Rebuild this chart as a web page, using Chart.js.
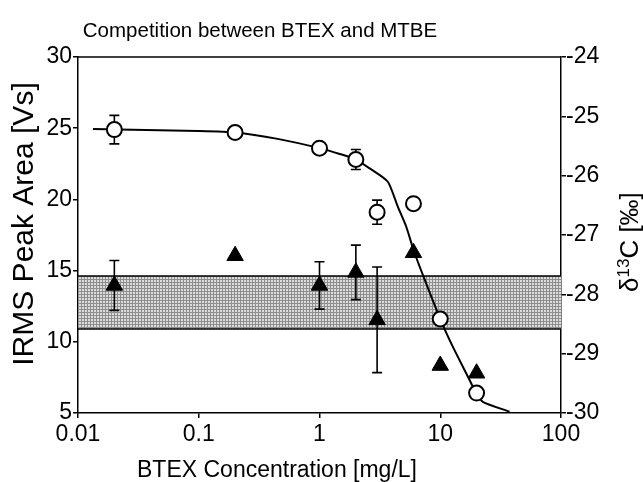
<!DOCTYPE html>
<html>
<head>
<meta charset="utf-8">
<title>Competition between BTEX and MTBE</title>
<script src="https://cdn.jsdelivr.net/npm/chart.js@4.4.1/dist/chart.umd.min.js"></script>
<style>
  html, body { margin: 0; padding: 0; background: #fff; }
  #wrap { width: 643px; height: 482px; }
</style>
</head>
<body>
<div id="wrap"><canvas id="chart" width="643" height="482"></canvas></div>
<script>
// BTEX concentrations [mg/L] for both measured series
var conc = [0.02, 0.2, 1, 2, 3, 6, 10, 20];

// IRMS peak area [Vs] (left axis) with +/- errors
var peakArea = [24.9, 24.7, 23.6, 22.8, 19.1, 19.7, 11.6, 6.4];
var peakAreaErr = [1.0, 0, 0, 0.7, 0.85, 0, 0, 0];

// delta 13C [permil] (right axis) with +/- errors
var delta13C = [-27.85, -27.35, -27.85, -27.63, -28.43, -27.3, -29.2, -29.33];
var delta13CErr = [0.42, 0, 0.4, 0.46, 0.89, 0, 0, 0];

// fitted curve through the peak areas
var fitConc = [0.0133, 0.1, 0.2, 0.45, 1, 1.47, 2, 2.6, 3.68, 4.45, 5.23, 6.01, 7.27, 10, 12.7, 16.4, 19.9, 22.5, 37.5];
var fitArea = [24.95, 24.8, 24.7, 24.25, 23.6, 23.19, 22.8, 22.18, 21.24, 19.49, 18.08, 16.45, 14.57, 11.6, 9.66, 7.79, 6.38, 5.79, 5.09];

// shaded reference band (peak area scale)
var bandConc = [0.01, 100];
var bandLow = [10.9, 10.9];
var bandHigh = [14.62, 14.62];

// axis ticks
var xTicks = [0.01, 0.1, 1, 10, 100];
var xTickLabels = ['0.01', '0.1', '1', '10', '100'];

var FONT = "'Liberation Sans', Arial, Helvetica, sans-serif";
Chart.defaults.font.family = FONT;
Chart.defaults.color = '#000';

function pts(xs, ys) {
    return xs.map(function(x, i) { return { x: x, y: ys[i] }; });
}

// fine gray grid used to fill the band
function bandPattern() {
    var c = document.createElement('canvas');
    c.width = 3; c.height = 3;
    var g = c.getContext('2d');
    g.fillStyle = '#dcdcdc';
    g.fillRect(0, 0, 3, 3);
    g.fillStyle = '#8e8e8e';
    g.fillRect(0, 0, 3, 1);
    g.fillRect(0, 0, 1, 3);
    return g.createPattern(c, 'repeat');
}

// vertical error bars with caps, drawn just under their markers
var errorBars = {
    id: 'errorBars',
    beforeDatasetDraw: function(chart, args) {
        var ds = chart.data.datasets[args.index];
        if (!ds.errors) return;
        var ctx = chart.ctx;
        var xs = chart.scales.x;
        var ys = chart.scales[ds.yAxisID];
        ctx.save();
        ctx.strokeStyle = '#000';
        ctx.lineWidth = 1.6;
        ds.data.forEach(function(p, i) {
            var e = ds.errors[i];
            if (!e) return;
            var x = xs.getPixelForValue(p.x);
            var y1 = ys.getPixelForValue(p.y + e);
            var y2 = ys.getPixelForValue(p.y - e);
            ctx.beginPath();
            ctx.moveTo(x, y1); ctx.lineTo(x, y2);
            ctx.moveTo(x - 5, y1); ctx.lineTo(x + 5, y1);
            ctx.moveTo(x - 5, y2); ctx.lineTo(x + 5, y2);
            ctx.stroke();
        });
        ctx.restore();
    }
};

// top frame line, chart title and axis titles
var frameAndTitles = {
    id: 'frameAndTitles',
    afterDraw: function(chart) {
        var ctx = chart.ctx;
        var a = chart.chartArea;
        ctx.save();
        ctx.strokeStyle = '#000';
        ctx.lineWidth = 1.5;
        ctx.beginPath();
        ctx.moveTo(a.left, a.top);
        ctx.lineTo(a.right, a.top);
        ctx.stroke();

        ctx.fillStyle = '#000';
        ctx.textBaseline = 'alphabetic';
        ctx.textAlign = 'center';
        ctx.font = '20.5px ' + FONT;
        ctx.fillText('Competition between BTEX and MTBE', 260, 37);

        ctx.font = '23px ' + FONT;
        ctx.fillText('BTEX Concentration [mg/L]', 277, 477);

        // left axis title
        ctx.save();
        ctx.translate(33, 224);
        ctx.rotate(-Math.PI / 2);
        ctx.font = '30px ' + FONT;
        ctx.fillText('IRMS Peak Area [Vs]', 0, 0);
        ctx.restore();

        // right axis title with superscript mass number
        ctx.save();
        ctx.translate(638, 292);
        ctx.rotate(-Math.PI / 2);
        ctx.textAlign = 'left';
        var x = 0;
        ctx.font = '26px ' + FONT;
        ctx.fillText('\u03b4', x, 0);
        x += ctx.measureText('\u03b4').width;
        ctx.font = '17px ' + FONT;
        ctx.fillText('13', x, -9);
        x += ctx.measureText('13').width;
        ctx.font = '26px ' + FONT;
        ctx.fillText('C [\u2030]', x, 0);
        ctx.restore();

        ctx.restore();
    }
};

var axisLine = { color: '#000', width: 1.5 };
var tickGrid = { drawOnChartArea: false, color: '#000', lineWidth: 1.5, tickLength: 5 };

var ctx = document.getElementById('chart').getContext('2d');
var chart = new Chart(ctx, {
    type: 'line',
    data: {
        datasets: [
            {
                label: 'band low',
                data: pts(bandConc, bandLow),
                yAxisID: 'yL',
                borderColor: '#000',
                borderWidth: 1.5,
                pointRadius: 0,
                fill: false,
                order: 10
            },
            {
                label: 'band high',
                data: pts(bandConc, bandHigh),
                yAxisID: 'yL',
                borderColor: '#000',
                borderWidth: 1.5,
                backgroundColor: bandPattern(),
                pointRadius: 0,
                fill: '-1',
                order: 10
            },
            {
                label: 'fit',
                data: pts(fitConc, fitArea),
                yAxisID: 'yL',
                borderColor: '#000',
                borderWidth: 2,
                pointRadius: 0,
                tension: 0.2,
                fill: false,
                order: 3
            },
            {
                label: 'delta 13C',
                data: pts(conc, delta13C),
                errors: delta13CErr,
                yAxisID: 'yR',
                showLine: false,
                pointStyle: 'triangle',
                pointRadius: 9.5,
                pointBackgroundColor: '#000',
                pointBorderColor: '#000',
                pointBorderWidth: 1,
                order: 2
            },
            {
                label: 'peak area',
                data: pts(conc, peakArea),
                errors: peakAreaErr,
                yAxisID: 'yL',
                showLine: false,
                pointStyle: 'circle',
                pointRadius: 7.5,
                pointBackgroundColor: '#fff',
                pointBorderColor: '#000',
                pointBorderWidth: 2,
                order: 1
            }
        ]
    },
    options: {
        responsive: false,
        animation: false,
        layout: { padding: { top: 57, left: 0, right: 0, bottom: 0 } },
        plugins: {
            legend: { display: false },
            tooltip: { enabled: false },
            title: { display: false }
        },
        scales: {
            x: {
                type: 'logarithmic',
                position: 'bottom',
                min: 0.01,
                max: 100,
                border: axisLine,
                grid: tickGrid,
                afterBuildTicks: function(scale) {
                    scale.ticks = xTicks.map(function(v) { return { value: v }; });
                },
                afterFit: function(scale) { scale.height = 69; },
                ticks: {
                    font: { size: 23 },
                    padding: 3,
                    maxRotation: 0,
                    autoSkip: false,
                    callback: function(value, index) { return xTickLabels[index]; }
                }
            },
            yL: {
                type: 'linear',
                position: 'left',
                min: 5,
                max: 30,
                border: axisLine,
                grid: tickGrid,
                afterFit: function(scale) { scale.width = 78; },
                ticks: { stepSize: 5, font: { size: 23 }, padding: 1 }
            },
            yR: {
                type: 'linear',
                position: 'right',
                min: -30,
                max: -24,
                border: axisLine,
                grid: tickGrid,
                afterFit: function(scale) { scale.width = 82; },
                ticks: { stepSize: 1, font: { size: 23 }, padding: 0 }
            }
        }
    },
    plugins: [errorBars, frameAndTitles]
});
</script>
</body>
</html>
